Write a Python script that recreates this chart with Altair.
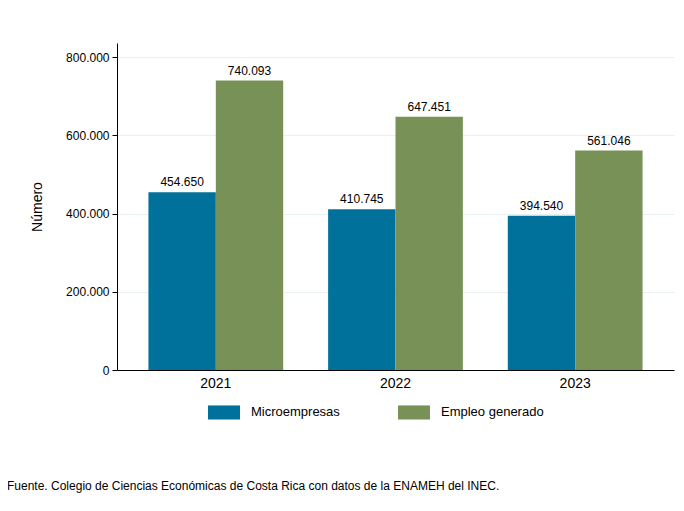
import altair as alt
import pandas as pd

years = ["2021", "2022", "2023"]
series = ["Microempresas", "Empleo generado"]
micro = [454650, 410745, 394540]
empleo = [740093, 647451, 561046]
colors = ["#00719B", "#789157"]
y_ticks = [0, 200000, 400000, 600000, 800000]

rows = []
for i, yr in enumerate(years):
    rows.append({"year": yr, "serie": series[0], "valor": micro[i]})
    rows.append({"year": yr, "serie": series[1], "valor": empleo[i]})
df = pd.DataFrame(rows)

FONT = "Liberation Sans"

base = alt.Chart(df).encode(
    x=alt.X("year:N", title=None,
            scale=alt.Scale(paddingInner=0.25, paddingOuter=0.175),
            axis=alt.Axis(labelAngle=0, ticks=False, labelPadding=6,
                          labelFontSize=14, domainColor="black", grid=False)),
    xOffset=alt.XOffset("serie:N", sort=series, scale=alt.Scale(paddingInner=0, paddingOuter=0)),
)

bars = base.mark_bar().encode(
    y=alt.Y("valor:Q", title="Número",
            scale=alt.Scale(domain=[0, 836000], nice=False),
            axis=alt.Axis(values=y_ticks, format=",d", tickSize=5, tickColor="black",
                          domainColor="black", labelFontSize=12, titleFontSize=14,
                          titleFontWeight="normal", titlePadding=21, gridColor="#e8f0f1",
                          labelPadding=3)),
    color=alt.Color("serie:N", sort=series, scale=alt.Scale(domain=series, range=colors),
                    legend=alt.Legend(title=None, orient="none", direction="horizontal",
                                      legendX=91, legendY=353,
                                      symbolType="M-1,-0.44H1V0.44H-1Z", symbolSize=1024,
                                      symbolStrokeWidth=0, labelFontSize=13, labelOffset=11,
                                      columnPadding=58, padding=0)),
)

labels = base.mark_text(dy=-10, fontSize=12, font=FONT, color="black").encode(
    y=alt.Y("valor:Q"),
    text=alt.Text("valor:Q", format=",d"),
)

chart = (bars + labels).properties(
    width=557, height=327,
    autosize=alt.AutoSizeParams(type="none"),
    padding={"left": 109, "top": 35, "right": 2, "bottom": 130},
    title=alt.TitleParams(
        "Fuente. Colegio de Ciencias Económicas de Costa Rica con datos de la ENAMEH del INEC.",
        orient="bottom", anchor="start", frame="group", dx=-110, offset=61,
        fontSize=12, fontWeight="normal", font=FONT, color="black"),
).configure(
    font=FONT,
    locale={"number": {"decimal": ",", "thousands": ".", "grouping": [3], "currency": ["", ""]}},
).configure_view(stroke=None).configure_axis(
    labelColor="black", titleColor="black", labelFont=FONT, titleFont=FONT,
).configure_legend(labelFont=FONT, labelColor="black")

chart.save("out.html", embed_options={"renderer": "svg", "actions": False})
